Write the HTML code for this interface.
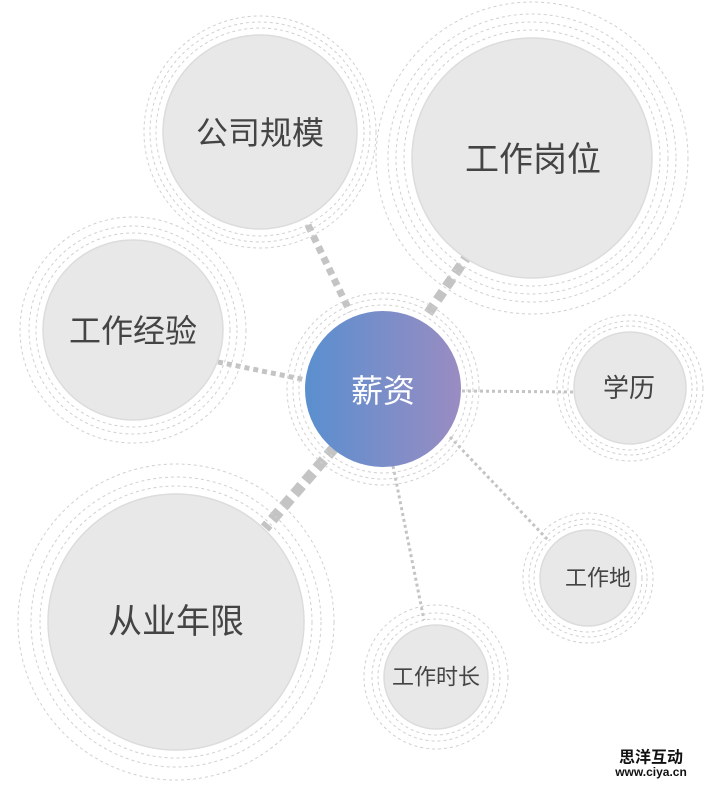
<!DOCTYPE html>
<html><head><meta charset="utf-8"><style>
html,body{margin:0;padding:0;background:#fff;}
svg{display:block}
text{font-family:"Liberation Sans","Noto Sans CJK SC",sans-serif;fill:#444;text-anchor:middle;dominant-baseline:central}
</style></head><body>
<svg width="720" height="786" viewBox="0 0 720 786">
<defs>
<linearGradient id="g" x1="0" x2="1" y1="0" y2="0">
<stop offset="0" stop-color="#5a8fcf"/><stop offset="1" stop-color="#9a8cc2"/>
</linearGradient>
</defs>
<g stroke="#c4c4c4" fill="none">
<line x1="308" y1="225" x2="350" y2="312" stroke-width="7" stroke-dasharray="7 5"/>
<line x1="470" y1="252" x2="425" y2="318" stroke-width="10" stroke-dasharray="10 6"/>
<line x1="218" y1="362" x2="306" y2="380" stroke-width="5" stroke-dasharray="5 4"/>
<line x1="462" y1="391" x2="575" y2="392" stroke-width="3" stroke-dasharray="3 3"/>
<line x1="450" y1="437" x2="548" y2="540" stroke-width="3" stroke-dasharray="3 3"/>
<line x1="393" y1="466" x2="424" y2="620" stroke-width="3" stroke-dasharray="3 3"/>
<line x1="335" y1="447" x2="265" y2="528" stroke-width="11" stroke-dasharray="11 6"/>
</g>
<g fill="none" stroke="#d0d0d0" stroke-dasharray="3 3" stroke-width="1">
<circle cx="260" cy="132" r="104"/><circle cx="260" cy="132" r="110"/><circle cx="260" cy="132" r="116"/>
<circle cx="532" cy="158" r="128"/><circle cx="532" cy="158" r="136"/><circle cx="532" cy="158" r="144"/><circle cx="532" cy="158" r="156"/>
<circle cx="133" cy="330" r="97"/><circle cx="133" cy="330" r="104"/><circle cx="133" cy="330" r="113"/>
<circle cx="383" cy="389" r="84"/><circle cx="383" cy="389" r="90"/><circle cx="383" cy="389" r="96"/>
<circle cx="630" cy="388" r="62"/><circle cx="630" cy="388" r="67"/><circle cx="630" cy="388" r="73"/>
<circle cx="588" cy="578" r="54"/><circle cx="588" cy="578" r="59"/><circle cx="588" cy="578" r="65"/>
<circle cx="436" cy="677" r="58"/><circle cx="436" cy="677" r="64"/><circle cx="436" cy="677" r="72"/>
<circle cx="176" cy="622" r="136"/><circle cx="176" cy="622" r="145"/><circle cx="176" cy="622" r="158"/>
</g>
<g fill="#e8e8e8" stroke="#dcdcdc" stroke-width="1.5">
<circle cx="260" cy="132" r="97"/>
<circle cx="532" cy="158" r="120"/>
<circle cx="133" cy="330" r="90"/>
<circle cx="630" cy="388" r="56"/>
<circle cx="588" cy="578" r="48"/>
<circle cx="436" cy="677" r="52"/>
<circle cx="176" cy="622" r="128"/>
</g>
<circle cx="383" cy="389" r="78" fill="url(#g)"/>
<text x="260" y="133" font-size="32">公司规模</text>
<text x="533" y="160" font-size="34">工作岗位</text>
<text x="133" y="331" font-size="32">工作经验</text>
<text x="383" y="391" font-size="32" style="fill:#fff">薪资</text>
<text x="629" y="388" font-size="26">学历</text>
<text x="598" y="578" font-size="22">工作地</text>
<text x="436" y="677" font-size="22">工作时长</text>
<text x="176" y="622" font-size="34">从业年限</text>
<text x="651" y="758" font-size="16" font-weight="bold" style="fill:#111">思洋互动</text>
<text x="651" y="772" font-size="12" font-weight="bold" style="fill:#111">www.ciya.cn</text>
</svg>
</body></html>
